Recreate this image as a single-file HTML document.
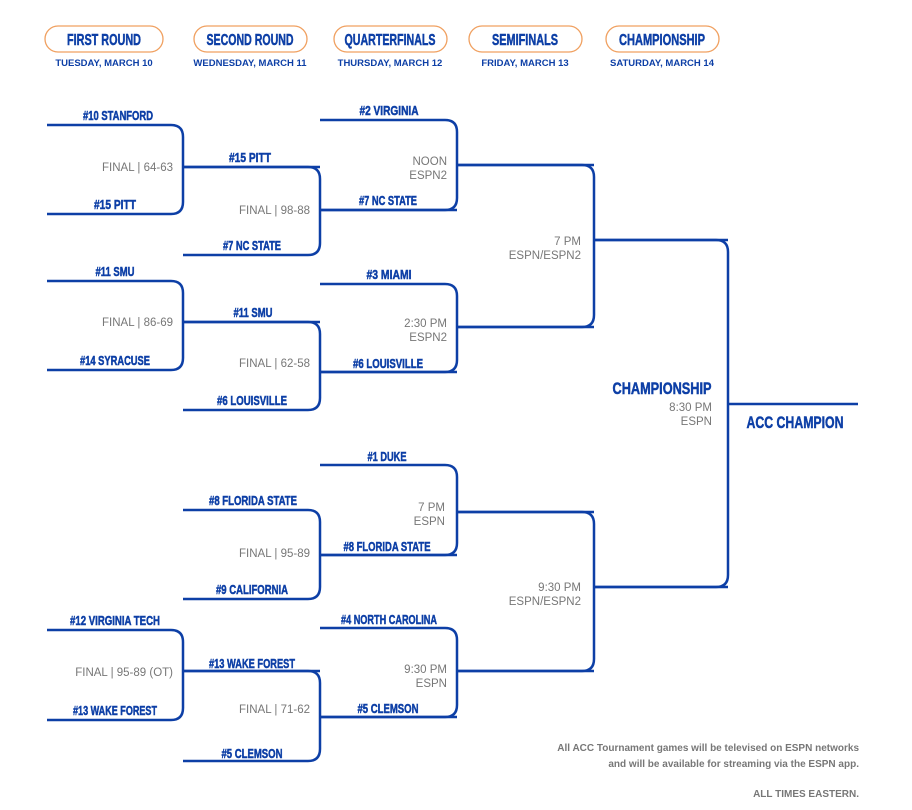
<!DOCTYPE html>
<html><head><meta charset="utf-8"><style>
html,body{margin:0;padding:0;background:#fff;}
svg{display:block;}
.t{font-family:"Liberation Sans",sans-serif;font-weight:bold;font-size:13px;fill:#0d3fa6;stroke:#0d3fa6;stroke-width:0.5;text-anchor:middle;}
.g{font-family:"Liberation Sans",sans-serif;font-size:11.5px;fill:#777;text-anchor:end;}
.h{font-family:"Liberation Sans",sans-serif;font-weight:bold;font-size:16px;fill:#0d3fa6;stroke:#0d3fa6;stroke-width:0.5;text-anchor:middle;}
.d{font-family:"Liberation Sans",sans-serif;font-weight:bold;font-size:9.5px;fill:#0d3fa6;text-anchor:middle;}
.n{font-family:"Liberation Sans",sans-serif;font-weight:bold;font-size:10px;fill:#777;text-anchor:end;}
</style></head><body>
<svg width="912" height="810" viewBox="0 0 912 810" xmlns="http://www.w3.org/2000/svg">
<g fill="none" stroke="#f0a060" stroke-width="1.3">
<rect x="45" y="26" width="118" height="26" rx="13"/>
<rect x="194" y="26" width="113" height="26" rx="13"/>
<rect x="334" y="26" width="113" height="26" rx="13"/>
<rect x="469" y="26" width="113" height="26" rx="13"/>
<rect x="606" y="26" width="113" height="26" rx="13"/>
</g>
<text class="h" x="104" y="45" textLength="74" lengthAdjust="spacingAndGlyphs">FIRST ROUND</text>
<text class="h" x="250" y="45" textLength="87" lengthAdjust="spacingAndGlyphs">SECOND ROUND</text>
<text class="h" x="390" y="45" textLength="91" lengthAdjust="spacingAndGlyphs">QUARTERFINALS</text>
<text class="h" x="525" y="45" textLength="66" lengthAdjust="spacingAndGlyphs">SEMIFINALS</text>
<text class="h" x="662" y="45" textLength="86" lengthAdjust="spacingAndGlyphs">CHAMPIONSHIP</text>
<text class="d" x="104" y="66">TUESDAY, MARCH 10</text>
<text class="d" x="250" y="66">WEDNESDAY, MARCH 11</text>
<text class="d" x="390" y="66">THURSDAY, MARCH 12</text>
<text class="d" x="525" y="66">FRIDAY, MARCH 13</text>
<text class="d" x="662" y="66">SATURDAY, MARCH 14</text>

<g fill="none" stroke="#0d3fa6" stroke-width="2.5">
<path d="M47 125 H171 Q183 125 183 137 V202 Q183 214 171 214 H47 M183 167 H320"/>
<path d="M47 281 H171 Q183 281 183 293 V358 Q183 370 171 370 H47 M183 322 H320"/>
<path d="M47 630 H171 Q183 630 183 642 V708 Q183 720 171 720 H47 M183 671 H320"/>
<path d="M183 167 H308 Q320 167 320 179 V243 Q320 255 308 255 H183 M320 210 H457"/>
<path d="M183 322 H308 Q320 322 320 334 V398 Q320 410 308 410 H183 M320 372 H457"/>
<path d="M183 510 H308 Q320 510 320 522 V587 Q320 599 308 599 H183 M320 555 H457"/>
<path d="M183 671 H308 Q320 671 320 683 V749 Q320 761 308 761 H183 M320 717 H457"/>
<path d="M320 120 H445 Q457 120 457 132 V198 Q457 210 445 210 H320 M457 165 H594"/>
<path d="M320 284 H445 Q457 284 457 296 V360 Q457 372 445 372 H320 M457 327 H594"/>
<path d="M320 465 H445 Q457 465 457 477 V543 Q457 555 445 555 H320 M457 512 H594"/>
<path d="M320 628 H445 Q457 628 457 640 V705 Q457 717 445 717 H320 M457 671 H594"/>
<path d="M457 165 H582 Q594 165 594 177 V315 Q594 327 582 327 H457 M594 240 H728"/>
<path d="M457 512 H582 Q594 512 594 524 V659 Q594 671 582 671 H457 M594 587 H728"/>
<path d="M594 240 H716 Q728 240 728 252 V575 Q728 587 716 587 H594 M728 404 H858"/>
</g>

<text class="t" x="118" y="120" textLength="70" lengthAdjust="spacingAndGlyphs">#10 STANFORD</text>
<text class="t" x="115" y="209" textLength="42" lengthAdjust="spacingAndGlyphs">#15 PITT</text>
<text class="t" x="115" y="276" textLength="39" lengthAdjust="spacingAndGlyphs">#11 SMU</text>
<text class="t" x="115" y="365" textLength="70" lengthAdjust="spacingAndGlyphs">#14 SYRACUSE</text>
<text class="t" x="115" y="625" textLength="90" lengthAdjust="spacingAndGlyphs">#12 VIRGINIA TECH</text>
<text class="t" x="115" y="715" textLength="84" lengthAdjust="spacingAndGlyphs">#13 WAKE FOREST</text>

<text class="t" x="250" y="162" textLength="42" lengthAdjust="spacingAndGlyphs">#15 PITT</text>
<text class="t" x="252" y="250" textLength="58" lengthAdjust="spacingAndGlyphs">#7 NC STATE</text>
<text class="t" x="253" y="317" textLength="39" lengthAdjust="spacingAndGlyphs">#11 SMU</text>
<text class="t" x="252" y="405" textLength="70" lengthAdjust="spacingAndGlyphs">#6 LOUISVILLE</text>
<text class="t" x="253" y="505" textLength="88" lengthAdjust="spacingAndGlyphs">#8 FLORIDA STATE</text>
<text class="t" x="252" y="594" textLength="72" lengthAdjust="spacingAndGlyphs">#9 CALIFORNIA</text>
<text class="t" x="252" y="668" textLength="86" lengthAdjust="spacingAndGlyphs">#13 WAKE FOREST</text>
<text class="t" x="252" y="758" textLength="61" lengthAdjust="spacingAndGlyphs">#5 CLEMSON</text>

<text class="t" x="389" y="115" textLength="59" lengthAdjust="spacingAndGlyphs">#2 VIRGINIA</text>
<text class="t" x="388" y="205" textLength="58" lengthAdjust="spacingAndGlyphs">#7 NC STATE</text>
<text class="t" x="389" y="279" textLength="45" lengthAdjust="spacingAndGlyphs">#3 MIAMI</text>
<text class="t" x="388" y="368" textLength="70" lengthAdjust="spacingAndGlyphs">#6 LOUISVILLE</text>
<text class="t" x="387" y="461" textLength="39" lengthAdjust="spacingAndGlyphs">#1 DUKE</text>
<text class="t" x="387" y="551" textLength="87" lengthAdjust="spacingAndGlyphs">#8 FLORIDA STATE</text>
<text class="t" x="389" y="624" textLength="96" lengthAdjust="spacingAndGlyphs">#4 NORTH CAROLINA</text>
<text class="t" x="388" y="713" textLength="61" lengthAdjust="spacingAndGlyphs">#5 CLEMSON</text>

<text class="g" x="173" y="171">FINAL | 64-63</text>
<text class="g" x="310" y="214">FINAL | 98-88</text>
<text class="g" x="173" y="326">FINAL | 86-69</text>
<text class="g" x="310" y="367">FINAL | 62-58</text>
<text class="g" x="310" y="557">FINAL | 95-89</text>
<text class="g" x="173" y="676">FINAL | 95-89 (OT)</text>
<text class="g" x="310" y="713">FINAL | 71-62</text>

<text class="g" x="447" y="165">NOON</text><text class="g" x="447" y="179">ESPN2</text>
<text class="g" x="447" y="327">2:30 PM</text><text class="g" x="447" y="341">ESPN2</text>
<text class="g" x="445" y="511">7 PM</text><text class="g" x="445" y="525">ESPN</text>
<text class="g" x="447" y="673">9:30 PM</text><text class="g" x="447" y="687">ESPN</text>
<text class="g" x="581" y="245">7 PM</text><text class="g" x="581" y="259">ESPN/ESPN2</text>
<text class="g" x="581" y="591">9:30 PM</text><text class="g" x="581" y="605">ESPN/ESPN2</text>

<text class="t" x="662" y="394" style="font-size:17px" textLength="99" lengthAdjust="spacingAndGlyphs">CHAMPIONSHIP</text>
<text class="g" x="712" y="411">8:30 PM</text>
<text class="g" x="712" y="425">ESPN</text>
<text class="t" x="795" y="428" style="font-size:17px" textLength="97" lengthAdjust="spacingAndGlyphs">ACC CHAMPION</text>

<text class="n" x="859" y="751">All ACC Tournament games will be televised on ESPN networks</text>
<text class="n" x="859" y="767">and will be available for streaming via the ESPN app.</text>
<text class="n" x="859" y="797">ALL TIMES EASTERN.</text>
</svg>
</body></html>
